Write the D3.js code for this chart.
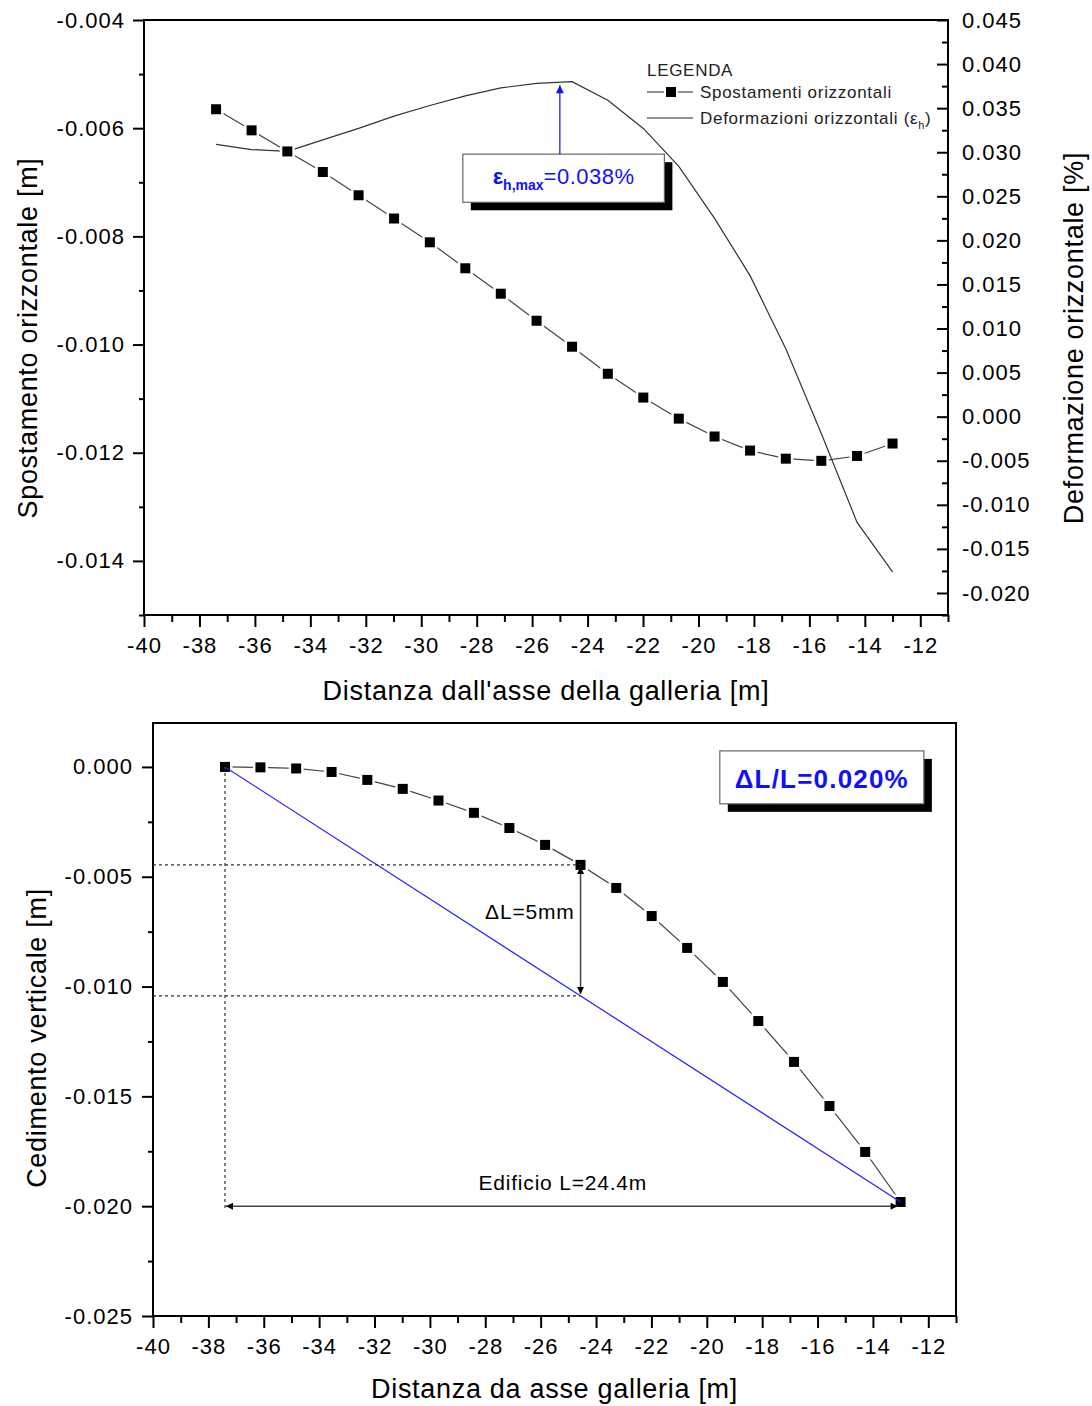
<!DOCTYPE html>
<html>
<head>
<meta charset="utf-8">
<script src="https://cdn.jsdelivr.net/npm/d3@7"></script>
<style>
body { margin: 0; background: #fff; }
svg { font-family: "Liberation Sans", Arial, sans-serif; }
</style>
</head>
<body>
<script>
// distance from tunnel axis [m], same stations for both charts
const xPos = [-37.40, -36.12, -34.83, -33.55, -32.26, -30.98, -29.69, -28.41, -27.13, -25.84,
              -24.56, -23.27, -21.99, -20.71, -19.42, -18.14, -16.85, -15.57, -14.28, -13.00];
// horizontal displacement [m]
const dispH = [-0.00565, -0.00604, -0.00643, -0.00681, -0.00724, -0.00767, -0.00811, -0.00859, -0.00906, -0.00956,
               -0.01004, -0.01054, -0.01098, -0.01137, -0.01170, -0.01196, -0.01211, -0.01215, -0.01206, -0.01183];
// horizontal strain [%]
const strainH = [0.0309, 0.0303, 0.0301, 0.0314, 0.0327, 0.0341, 0.0353, 0.0364, 0.0373, 0.0378,
                 0.0380, 0.0359, 0.0327, 0.0284, 0.0225, 0.0160, 0.0077, -0.0019, -0.0120, -0.0176];
// vertical settlement [m]
const settle = [0.00000, -0.00002, -0.00007, -0.00023, -0.00059, -0.00100, -0.00153, -0.00209, -0.00278, -0.00355,
                -0.00446, -0.00551, -0.00679, -0.00824, -0.00979, -0.01157, -0.01343, -0.01544, -0.01753, -0.01981];

const xMajor = d3.range(-40, -11, 2);
const xMinor = d3.range(-39, -10, 2);
const yLMajor = d3.range(6).map(i => -0.004 - 0.002 * i);
const yLMinor = d3.range(6).map(i => -0.005 - 0.002 * i);
const yRMajor = d3.range(14).map(i => 0.045 - 0.005 * i);
const yRMinor = d3.range(14).map(i => 0.0425 - 0.005 * i);
const y2Major = d3.range(6).map(i => -0.005 * i);
const y2Minor = d3.range(5).map(i => -0.0025 - 0.005 * i);

// plain hyphen as minus sign, like the original
const loc = d3.formatLocale({decimal: ".", thousands: ",", grouping: [3], currency: ["", ""], minus: "-"});
const fmt = loc.format(".3f");
const fmtInt = loc.format("d");

const svg = d3.select("body").append("svg")
  .attr("width", 1092)
  .attr("height", 1406);

const defs = svg.append("defs");
function marker(id, color, w, h) {
  defs.append("marker")
    .attr("id", id)
    .attr("viewBox", "0 0 10 10")
    .attr("refX", 10).attr("refY", 5)
    .attr("markerUnits", "userSpaceOnUse")
    .attr("markerWidth", w).attr("markerHeight", h)
    .attr("orient", "auto-start-reverse")
    .append("path")
    .attr("d", "M0,0L10,5L0,10z")
    .attr("fill", color);
}
marker("arrBlue", "#1010ff", 12, 8);
marker("arrBlack", "#000", 10, 7);

function styleAxis(g) {
  g.select(".domain").remove();
  g.selectAll("line").attr("stroke", "#000").attr("stroke-width", 2);
  g.selectAll("text")
    .attr("fill", "#000")
    .style("font-size", "22px")
    .style("letter-spacing", "1px")
    .style("font-family", "'Liberation Sans', Arial, sans-serif");
}

function drawSquares(g, xs, ys, xs_, ys_) {
  g.selectAll(null)
    .data(xs)
    .join("rect")
    .attr("x", (d, i) => xs_(d) - 5)
    .attr("y", (d, i) => ys_(ys[i]) - 5)
    .attr("width", 10).attr("height", 10)
    .attr("fill", "#000")
    .attr("stroke", "#fff")
    .attr("stroke-width", 5)
    .attr("paint-order", "stroke");
}

function shadowBox(g, x0, y0, x1, y1) {
  g.append("rect").attr("x", x0 + 8).attr("y", y0 + 8)
    .attr("width", x1 - x0).attr("height", y1 - y0).attr("fill", "#000");
  g.append("rect").attr("x", x0).attr("y", y0)
    .attr("width", x1 - x0).attr("height", y1 - y0)
    .attr("fill", "#fff").attr("stroke", "#666").attr("stroke-width", 1.2);
}

// ---------------- top chart ----------------
const x1 = d3.scaleLinear().domain([-40, -11]).range([144, 948]);
const yL = d3.scaleLinear().domain([-0.015, -0.004]).range([615, 20]);
const yR = d3.scaleLinear().domain([-0.0225, 0.045]).range([615, 20]);

const topG = svg.append("g");

topG.append("g").attr("transform", "translate(0,615)")
  .call(d3.axisBottom(x1).tickValues(xMinor).tickSize(7).tickFormat(""))
  .call(styleAxis);
topG.append("g").attr("transform", "translate(0,615)")
  .call(d3.axisBottom(x1).tickValues(xMajor).tickSize(12).tickPadding(10).tickFormat(fmtInt))
  .call(styleAxis);
topG.append("g").attr("transform", "translate(144,0)")
  .call(d3.axisLeft(yL).tickValues(yLMinor).tickSize(5).tickFormat(""))
  .call(styleAxis);
topG.append("g").attr("transform", "translate(144,0)")
  .call(d3.axisLeft(yL).tickValues(yLMajor).tickSize(11).tickPadding(8).tickFormat(fmt))
  .call(styleAxis);
topG.append("g").attr("transform", "translate(948,0)")
  .call(d3.axisRight(yR).tickValues(yRMinor).tickSize(-6).tickFormat(""))
  .call(styleAxis);
topG.append("g").attr("transform", "translate(948,0)")
  .call(d3.axisRight(yR).tickValues(yRMajor).tickSize(-11).tickPadding(14).tickFormat(fmt))
  .call(styleAxis);

topG.append("rect")
  .attr("x", 144).attr("y", 20).attr("width", 948 - 144).attr("height", 615 - 20)
  .attr("fill", "none").attr("stroke", "#000").attr("stroke-width", 2);

// strain curve
topG.append("path")
  .datum(xPos)
  .attr("fill", "none").attr("stroke", "#333").attr("stroke-width", 1.2)
  .attr("d", d3.line().x(d => x1(d)).y((d, i) => yR(strainH[i])));

// displacement line + squares
topG.append("path")
  .datum(xPos)
  .attr("fill", "none").attr("stroke", "#444").attr("stroke-width", 1.2)
  .attr("d", d3.line().x(d => x1(d)).y((d, i) => yL(dispH[i])));
drawSquares(topG.append("g"), xPos, dispH, x1, yL);

// max strain annotation
const epsBox = topG.append("g");
shadowBox(epsBox, x1(-28.5), yL(-0.00648), x1(-21.23), yL(-0.00737));
topG.append("line")
  .attr("x1", x1(-25)).attr("x2", x1(-25))
  .attr("y1", yL(-0.00648)).attr("y2", yR(0.0376))
  .attr("stroke", "#1010ff").attr("stroke-width", 1.2)
  .attr("marker-end", "url(#arrBlue)");
const epsText = topG.append("text")
  .attr("x", (x1(-28.5) + x1(-21.23)) / 2)
  .attr("y", yL(-0.00648) + 30)
  .attr("text-anchor", "middle")
  .attr("fill", "#1010ff")
  .style("font-size", "22px");
epsText.append("tspan").attr("font-weight", "bold").text("ε");
epsText.append("tspan").attr("font-weight", "bold").style("font-size", "14px").attr("dy", 6).text("h,max");
epsText.append("tspan").attr("dy", -6).style("letter-spacing", "0.5px").text("=0.038%");

// legend
const leg = topG.append("g").attr("transform", "translate(647,0)")
  .style("font-size", "17px").style("letter-spacing", "0.7px").attr("fill", "#222");
leg.append("text").attr("x", 0).attr("y", 76).text("LEGENDA");
leg.append("line").attr("x1", 0).attr("x2", 46).attr("y1", 92).attr("y2", 92)
  .attr("stroke", "#222").attr("stroke-width", 1.2);
leg.append("rect").attr("x", 19).attr("y", 87).attr("width", 10).attr("height", 10)
  .attr("fill", "#000").attr("stroke", "#fff").attr("stroke-width", 4).attr("paint-order", "stroke");
leg.append("text").attr("x", 53).attr("y", 98).text("Spostamenti orizzontali");
leg.append("line").attr("x1", 0).attr("x2", 46).attr("y1", 118).attr("y2", 118)
  .attr("stroke", "#222").attr("stroke-width", 1.2);
const legT = leg.append("text").attr("x", 53).attr("y", 124);
legT.append("tspan").text("Deformazioni orizzontali (ε");
legT.append("tspan").style("font-size", "11px").attr("dy", 5).text("h");
legT.append("tspan").attr("dy", -5).text(")");

// axis titles
topG.append("text")
  .attr("x", (144 + 948) / 2).attr("y", 700)
  .attr("text-anchor", "middle")
  .style("font-size", "27px").style("letter-spacing", "0.7px")
  .text("Distanza dall'asse della galleria [m]");
topG.append("text")
  .attr("transform", "translate(37,338) rotate(-90)")
  .attr("text-anchor", "middle")
  .style("font-size", "27px").style("letter-spacing", "0.7px")
  .text("Spostamento orizzontale [m]");
topG.append("text")
  .attr("transform", "translate(1083,338) rotate(-90)")
  .attr("text-anchor", "middle")
  .style("font-size", "27px").style("letter-spacing", "0.7px")
  .text("Deformazione orizzontale [%]");

// ---------------- bottom chart ----------------
const x2 = d3.scaleLinear().domain([-40, -11]).range([153, 956]);
const y2 = d3.scaleLinear().domain([-0.025, 0.002]).range([1316, 723]);

const bot = svg.append("g");

bot.append("g").attr("transform", "translate(0,1316)")
  .call(d3.axisBottom(x2).tickValues(xMinor).tickSize(7).tickFormat(""))
  .call(styleAxis);
bot.append("g").attr("transform", "translate(0,1316)")
  .call(d3.axisBottom(x2).tickValues(xMajor).tickSize(12).tickPadding(10).tickFormat(fmtInt))
  .call(styleAxis);
bot.append("g").attr("transform", "translate(153,0)")
  .call(d3.axisLeft(y2).tickValues(y2Minor).tickSize(5).tickFormat(""))
  .call(styleAxis);
bot.append("g").attr("transform", "translate(153,0)")
  .call(d3.axisLeft(y2).tickValues(y2Major).tickSize(11).tickPadding(9).tickFormat(fmt))
  .call(styleAxis);

bot.append("rect")
  .attr("x", 153).attr("y", 723).attr("width", 956 - 153).attr("height", 1316 - 723)
  .attr("fill", "none").attr("stroke", "#000").attr("stroke-width", 2);

// settlement line + squares
bot.append("path")
  .datum(xPos)
  .attr("fill", "none").attr("stroke", "#444").attr("stroke-width", 1.2)
  .attr("d", d3.line().x(d => x2(d)).y((d, i) => y2(settle[i])));
drawSquares(bot.append("g"), xPos, settle, x2, y2);

// chord of the building
const n = xPos.length - 1;
const chord = d3.scaleLinear().domain([xPos[0], xPos[n]]).range([settle[0], settle[n]]);
bot.append("line")
  .attr("x1", x2(xPos[0])).attr("y1", y2(settle[0]))
  .attr("x2", x2(xPos[n])).attr("y2", y2(settle[n]))
  .attr("stroke", "#2020ff").attr("stroke-width", 1.2);

// dashed guides
const k = 10;
const dash = bot.append("g").attr("stroke", "#333").attr("stroke-width", 1.2).attr("stroke-dasharray", "3,3");
dash.append("line")
  .attr("x1", x2(xPos[0])).attr("x2", x2(xPos[0]))
  .attr("y1", y2(settle[0])).attr("y2", y2(-0.0202));
dash.append("line")
  .attr("x1", x2(-40)).attr("x2", x2(xPos[k]))
  .attr("y1", y2(settle[k])).attr("y2", y2(settle[k]));
dash.append("line")
  .attr("x1", x2(-40)).attr("x2", x2(xPos[k]))
  .attr("y1", y2(chord(xPos[k]))).attr("y2", y2(chord(xPos[k])));

// arrows
bot.append("line")
  .attr("x1", x2(xPos[k])).attr("x2", x2(xPos[k]))
  .attr("y1", y2(settle[k]) + 2).attr("y2", y2(chord(xPos[k])) - 2)
  .attr("stroke", "#444").attr("stroke-width", 1.5)
  .attr("marker-start", "url(#arrBlack)").attr("marker-end", "url(#arrBlack)");
bot.append("line")
  .attr("x1", x2(xPos[0]) + 1).attr("x2", x2(xPos[n]) - 3)
  .attr("y1", y2(-0.0200)).attr("y2", y2(-0.0200))
  .attr("stroke", "#444").attr("stroke-width", 1.5)
  .attr("marker-start", "url(#arrBlack)").attr("marker-end", "url(#arrBlack)");

bot.append("text")
  .attr("x", x2(xPos[k]) - 6).attr("y", y2(-0.00693))
  .attr("text-anchor", "end")
  .style("font-size", "21px").style("letter-spacing", "0.8px")
  .text("ΔL=5mm");
bot.append("text")
  .attr("x", (x2(xPos[0]) + x2(xPos[n])) / 2).attr("y", y2(-0.0200) - 16)
  .attr("text-anchor", "middle")
  .style("font-size", "21px").style("letter-spacing", "0.8px")
  .text("Edificio L=24.4m");

// ΔL/L box
const dlBox = bot.append("g");
shadowBox(dlBox, x2(-19.53), y2(0.00073), x2(-12.16), y2(-0.00168));
bot.append("text")
  .attr("x", (x2(-19.53) + x2(-12.16)) / 2).attr("y", y2(0.00073) + 37)
  .attr("text-anchor", "middle")
  .attr("fill", "#1010ff").attr("font-weight", "bold")
  .style("font-size", "26px").style("letter-spacing", "1.2px")
  .text("ΔL/L=0.020%");

// axis titles
bot.append("text")
  .attr("x", (153 + 956) / 2).attr("y", 1398)
  .attr("text-anchor", "middle")
  .style("font-size", "27px").style("letter-spacing", "0.7px")
  .text("Distanza da asse galleria [m]");
bot.append("text")
  .attr("transform", "translate(46,1038) rotate(-90)")
  .attr("text-anchor", "middle")
  .style("font-size", "27px").style("letter-spacing", "0.7px")
  .text("Cedimento verticale [m]");
</script>
</body>
</html>
